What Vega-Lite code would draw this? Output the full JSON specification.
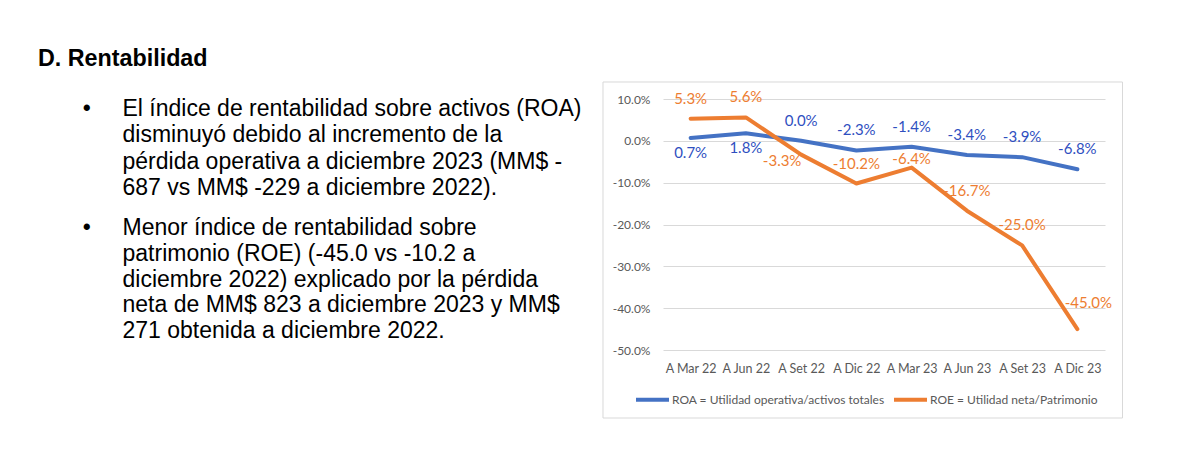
{
  "$schema": "https://vega.github.io/schema/vega-lite/v6.json",
  "width": 442,
  "height": 251,
  "autosize": {"type": "none"},
  "padding": {"left": 663, "top": 99, "right": 81, "bottom": 106},
  "background": "white",
  "config": {
    "view": {"stroke": null},
    "font": "Lato",
    "locale": {"number": {"decimal": ".", "thousands": ",", "grouping": [3], "currency": ["$", ""], "minus": "-"}}
  },
  "datasets": {
    "rent": [
      {"periodo": "A Mar 22", "serie": "ROA = Utilidad operativa/activos totales", "valor": 0.007},
      {"periodo": "A Jun 22", "serie": "ROA = Utilidad operativa/activos totales", "valor": 0.018},
      {"periodo": "A Set 22", "serie": "ROA = Utilidad operativa/activos totales", "valor": 0.0},
      {"periodo": "A Dic 22", "serie": "ROA = Utilidad operativa/activos totales", "valor": -0.023},
      {"periodo": "A Mar 23", "serie": "ROA = Utilidad operativa/activos totales", "valor": -0.014},
      {"periodo": "A Jun 23", "serie": "ROA = Utilidad operativa/activos totales", "valor": -0.034},
      {"periodo": "A Set 23", "serie": "ROA = Utilidad operativa/activos totales", "valor": -0.039},
      {"periodo": "A Dic 23", "serie": "ROA = Utilidad operativa/activos totales", "valor": -0.068},
      {"periodo": "A Mar 22", "serie": "ROE = Utilidad neta/Patrimonio", "valor": 0.053},
      {"periodo": "A Jun 22", "serie": "ROE = Utilidad neta/Patrimonio", "valor": 0.056},
      {"periodo": "A Set 22", "serie": "ROE = Utilidad neta/Patrimonio", "valor": -0.033},
      {"periodo": "A Dic 22", "serie": "ROE = Utilidad neta/Patrimonio", "valor": -0.102},
      {"periodo": "A Mar 23", "serie": "ROE = Utilidad neta/Patrimonio", "valor": -0.064},
      {"periodo": "A Jun 23", "serie": "ROE = Utilidad neta/Patrimonio", "valor": -0.167},
      {"periodo": "A Set 23", "serie": "ROE = Utilidad neta/Patrimonio", "valor": -0.25},
      {"periodo": "A Dic 23", "serie": "ROE = Utilidad neta/Patrimonio", "valor": -0.45}
    ],
    "texto": [
      {"bloque": "titulo", "texto": "D. Rentabilidad"},
      {"bloque": "p1", "texto": ["El índice de rentabilidad sobre activos (ROA)", "disminuyó debido al incremento de la", "pérdida operativa a diciembre 2023 (MM$ -", "687 vs MM$ -229 a diciembre 2022)."]},
      {"bloque": "p2", "texto": ["Menor índice de rentabilidad sobre", "patrimonio (ROE) (-45.0 vs -10.2 a", "diciembre 2022) explicado por la pérdida", "neta de MM$ 823 a diciembre 2023 y MM$", "271 obtenida a diciembre 2022."]}
    ]
  },
  "resolve": {"scale": {"x": "independent", "y": "independent"}},
  "layer": [
    {
      "layer": [
        {
          "data": {"values": [{}]},
          "mark": {"type": "rect", "filled": false, "stroke": "#D9D9D9", "strokeWidth": 1},
          "encoding": {
            "x": {"datum": -0.13575, "type": "quantitative", "scale": {"domain": [0, 1], "nice": false, "zero": false}, "axis": null},
            "x2": {"datum": 1.03959},
            "y": {"datum": 1.06773, "type": "quantitative", "scale": {"domain": [0, 1], "nice": false, "zero": false}, "axis": null},
            "y2": {"datum": -0.27092}
          }
        },
        {
          "data": {"name": "texto"},
          "transform": [{"filter": "datum.bloque === 'titulo'"}],
          "mark": {"type": "text", "font": "Liberation Sans", "fontSize": 23.3, "fontWeight": "bold", "color": "#000000", "align": "left", "baseline": "alphabetic"},
          "encoding": {
            "x": {"datum": -1.41403, "type": "quantitative"},
            "y": {"datum": 1.13147, "type": "quantitative"},
            "text": {"field": "texto"}
          }
        },
        {
          "data": {"name": "texto"},
          "transform": [{"filter": "datum.bloque === 'p1'"}],
          "mark": {"type": "text", "font": "Liberation Sans", "fontSize": 23, "color": "#000000", "align": "left", "baseline": "alphabetic", "lineHeight": 26.3},
          "encoding": {
            "x": {"datum": -1.22285, "type": "quantitative"},
            "y": {"datum": 0.93227, "type": "quantitative"},
            "text": {"field": "texto"}
          }
        },
        {
          "data": {"name": "texto"},
          "transform": [{"filter": "datum.bloque === 'p1'"}],
          "mark": {"type": "text", "font": "Liberation Sans", "fontSize": 23, "color": "#000000", "align": "center", "baseline": "alphabetic", "text": "•"},
          "encoding": {
            "x": {"datum": -1.30385, "type": "quantitative"},
            "y": {"datum": 0.93227, "type": "quantitative"}
          }
        },
        {
          "data": {"name": "texto"},
          "transform": [{"filter": "datum.bloque === 'p2'"}],
          "mark": {"type": "text", "font": "Liberation Sans", "fontSize": 23, "color": "#000000", "align": "left", "baseline": "alphabetic", "lineHeight": 25.8},
          "encoding": {
            "x": {"datum": -1.22285, "type": "quantitative"},
            "y": {"datum": 0.45817, "type": "quantitative"},
            "text": {"field": "texto"}
          }
        },
        {
          "data": {"name": "texto"},
          "transform": [{"filter": "datum.bloque === 'p2'"}],
          "mark": {"type": "text", "font": "Liberation Sans", "fontSize": 23, "color": "#000000", "align": "center", "baseline": "alphabetic", "text": "•"},
          "encoding": {
            "x": {"datum": -1.30385, "type": "quantitative"},
            "y": {"datum": 0.45817, "type": "quantitative"}
          }
        }
      ]
    },
    {
      "data": {"name": "rent"},
      "encoding": {
        "x": {
          "field": "periodo", "type": "nominal",
          "sort": ["A Mar 22", "A Jun 22", "A Set 22", "A Dic 22", "A Mar 23", "A Jun 23", "A Set 23", "A Dic 23"],
          "axis": {"orient": "bottom", "title": null, "labelAngle": 0, "domain": false, "ticks": false, "tickSize": 0, "labelPadding": 12, "labelFont": "Lato", "labelFontSize": 12.5, "labelColor": "#595959", "grid": false}
        },
        "y": {
          "field": "valor", "type": "quantitative",
          "scale": {"domain": [-0.5, 0.1], "nice": false, "zero": false},
          "axis": {"orient": "left", "title": null, "values": [-0.5, -0.4, -0.3, -0.2, -0.1, 0, 0.1], "format": ".1%", "domain": false, "ticks": false, "tickSize": 0, "labelPadding": 13, "labelFont": "Lato", "labelFontSize": 12, "labelColor": "#595959", "grid": true, "gridColor": "#D9D9D9", "gridWidth": 1}
        },
        "color": {
          "field": "serie", "type": "nominal",
          "scale": {"domain": ["ROA = Utilidad operativa/activos totales", "ROE = Utilidad neta/Patrimonio"], "range": ["#4472C4", "#ED7D31"]},
          "legend": {"title": null, "orient": "none", "legendX": -29, "legendY": 282, "direction": "horizontal", "symbolType": "stroke", "symbolStrokeWidth": 4, "symbolSize": 1089, "labelFont": "Lato", "labelFontSize": 12, "labelColor": "#595959", "labelOffset": 1, "labelLimit": 400, "columnPadding": 1}
        }
      },
      "layer": [
        {"mark": {"type": "line", "strokeWidth": 4, "strokeCap": "round", "strokeJoin": "round"}},
        {
          "transform": [{"filter": "datum.serie[2] === 'A' && (datum.periodo === 'A Mar 22' || datum.periodo === 'A Jun 22')"}],
          "mark": {"type": "text", "fontSize": 15, "font": "Lato", "dy": 15},
          "encoding": {"text": {"field": "valor", "format": ".1%"}, "color": {"value": "#2F4FBF"}}
        },
        {
          "transform": [{"filter": "datum.serie[2] === 'A' && datum.periodo !== 'A Mar 22' && datum.periodo !== 'A Jun 22'"}],
          "mark": {"type": "text", "fontSize": 15, "font": "Lato", "dy": -20},
          "encoding": {"text": {"field": "valor", "format": ".1%"}, "color": {"value": "#2F4FBF"}}
        },
        {
          "transform": [{"filter": "datum.serie[2] === 'E' && (datum.periodo === 'A Mar 22' || datum.periodo === 'A Jun 22' || datum.periodo === 'A Dic 22' || datum.periodo === 'A Jun 23' || datum.periodo === 'A Set 23')"}],
          "mark": {"type": "text", "fontSize": 15, "font": "Lato", "dy": -20},
          "encoding": {"text": {"field": "valor", "format": ".1%"}, "color": {"value": "#ED7D31"}}
        },
        {
          "transform": [{"filter": "datum.serie[2] === 'E' && datum.periodo === 'A Set 22'"}],
          "mark": {"type": "text", "fontSize": 15, "font": "Lato", "dx": -19, "dy": 6},
          "encoding": {"text": {"field": "valor", "format": ".1%"}, "color": {"value": "#ED7D31"}}
        },
        {
          "transform": [{"filter": "datum.serie[2] === 'E' && datum.periodo === 'A Mar 23'"}],
          "mark": {"type": "text", "fontSize": 15, "font": "Lato", "dy": -9},
          "encoding": {"text": {"field": "valor", "format": ".1%"}, "color": {"value": "#ED7D31"}}
        },
        {
          "transform": [{"filter": "datum.serie[2] === 'E' && datum.periodo === 'A Dic 23'"}],
          "mark": {"type": "text", "fontSize": 15, "font": "Lato", "dx": 11, "dy": -26},
          "encoding": {"text": {"field": "valor", "format": ".1%"}, "color": {"value": "#ED7D31"}}
        }
      ]
    }
  ]
}
